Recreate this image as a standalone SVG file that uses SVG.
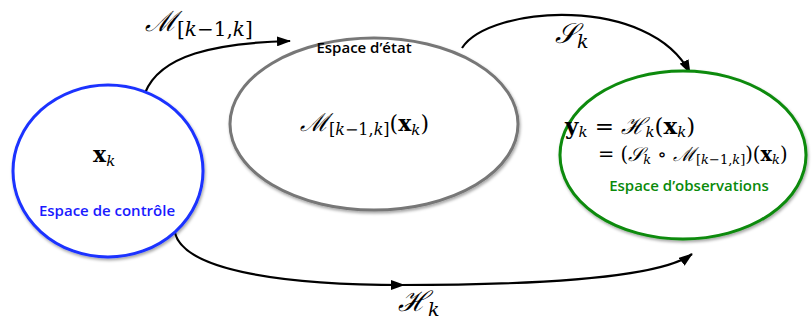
<svg xmlns="http://www.w3.org/2000/svg" width="812" height="320" viewBox="0 0 812 320">
<defs>
<marker id="ah" viewBox="0 0 14 10" refX="13" refY="5" markerWidth="14" markerHeight="10" markerUnits="userSpaceOnUse" orient="auto"><path d="M0,0 L14,5 L0,10 z" fill="#000"/></marker>
<filter id="sh" x="-10%" y="-10%" width="120%" height="125%"><feDropShadow dx="1" dy="2" stdDeviation="1.5" flood-color="#000" flood-opacity="0.35"/></filter>
</defs>
<style>
.lbl{font-family:"Open Sans","Liberation Sans",sans-serif;font-size:15px;font-weight:600;}
.m{font-family:"DejaVu Serif","Liberation Serif",serif;fill:#000;}
.cn{fill:none;stroke:#000;stroke-width:2.2;}
</style>
<rect width="812" height="320" fill="#fff"/>
<g id="connectors">
<path class="cn" d="M145,93 C160,55 215,43 290,41" marker-end="url(#ah)"/>
<path class="cn" d="M462,48 C490,5 650,-5 690,73" marker-end="url(#ah)"/>
<path class="cn" d="M175,233 C185,272 290,285 404,285" marker-end="url(#ah)"/>
<path class="cn" d="M400,285 C540,285 660,278 692,254" marker-end="url(#ah)"/>
<text class="m" x="145" y="31" font-size="28" font-style="italic">ℳ<tspan font-size="20" dy="5" font-style="normal">[</tspan><tspan font-size="20" font-style="italic">k</tspan><tspan font-size="20" font-style="normal">−1,</tspan><tspan font-size="20" font-style="italic">k</tspan><tspan font-size="20" font-style="normal">]</tspan></text>
<text class="m" x="555" y="43" font-size="28" font-style="italic">𝒮<tspan font-size="19" dy="5">k</tspan></text>
<text class="m" x="398" y="311" font-size="28" font-style="italic">ℋ<tspan font-size="19" dy="5">k</tspan></text>
</g>
<g id="control">
<ellipse cx="108" cy="171" rx="95" ry="86" fill="#fff" stroke="#1a33ff" stroke-width="3" filter="url(#sh)"/>
<text class="m" x="93" y="162" font-size="22" font-weight="bold">x<tspan font-size="15" dy="4" font-weight="normal" font-style="italic">k</tspan></text>
<text class="lbl" x="107" y="216" text-anchor="middle" fill="#1a1aff">Espace de contrôle</text>
</g>
<g id="state">
<ellipse cx="374" cy="124" rx="144" ry="86" fill="#fff" stroke="#777" stroke-width="3" filter="url(#sh)"/>
<text class="lbl" x="364" y="53" text-anchor="middle" fill="#000">Espace d’état</text>
<text class="m" x="300" y="131" font-size="25" font-style="italic">ℳ<tspan font-size="16" dy="4" font-style="normal">[</tspan><tspan font-size="16" font-style="italic">k</tspan><tspan font-size="16" font-style="normal">−1,</tspan><tspan font-size="16" font-style="italic">k</tspan><tspan font-size="16" font-style="normal">]</tspan><tspan font-size="22" dy="-4" font-style="normal">(</tspan><tspan font-size="22" font-weight="bold" font-style="normal">x</tspan><tspan font-size="15" dy="4">k</tspan><tspan font-size="22" dy="-4" font-style="normal">)</tspan></text>
</g>
<g id="obs">
<ellipse cx="683" cy="155" rx="123" ry="84" fill="#fff" stroke="#0a8a0a" stroke-width="3" filter="url(#sh)"/>
<text class="m" x="565" y="134" font-size="23"><tspan font-weight="bold">y</tspan><tspan font-size="15" dy="3" font-style="italic">k</tspan><tspan dy="-3"> = </tspan><tspan font-style="italic">ℋ</tspan><tspan font-size="15" dy="3" font-style="italic">k</tspan><tspan dy="-3">(</tspan><tspan font-weight="bold">x</tspan><tspan font-size="15" dy="3" font-style="italic">k</tspan><tspan dy="-3">)</tspan></text>
<text class="m" x="598" y="161" font-size="19.5">= (<tspan font-style="italic">𝒮</tspan><tspan font-size="13" dy="3" font-style="italic">k</tspan><tspan dy="-3"> ∘ </tspan><tspan font-style="italic">ℳ</tspan><tspan font-size="13" dy="3">[</tspan><tspan font-size="13" font-style="italic">k</tspan><tspan font-size="13">−1,</tspan><tspan font-size="13" font-style="italic">k</tspan><tspan font-size="13">]</tspan><tspan dy="-3">)(</tspan><tspan font-weight="bold">x</tspan><tspan font-size="13" dy="3" font-style="italic">k</tspan><tspan dy="-3">)</tspan></text>
<text class="lbl" x="689" y="191" text-anchor="middle" fill="#0a8a0a">Espace d’observations</text>
</g>
</svg>
